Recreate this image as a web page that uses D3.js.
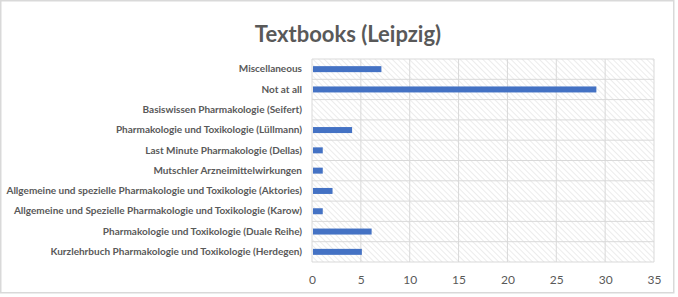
<!DOCTYPE html>
<html>
<head>
<meta charset="utf-8">
<script src="https://cdn.jsdelivr.net/npm/d3@7"></script>
<style>
  body { margin: 0; background: #fff; }
  svg text { font-family: Lato, "Noto Sans", sans-serif; }
</style>
</head>
<body>
<div id="chart"></div>
<script>
// data, top to bottom
var categories = [
    "Miscellaneous",
    "Not at all",
    "Basiswissen Pharmakologie (Seifert)",
    "Pharmakologie und Toxikologie (Lüllmann)",
    "Last Minute Pharmakologie (Dellas)",
    "Mutschler Arzneimittelwirkungen",
    "Allgemeine und spezielle Pharmakologie und Toxikologie (Aktories)",
    "Allgemeine und Spezielle Pharmakologie und Toxikologie (Karow)",
    "Pharmakologie und Toxikologie (Duale Reihe)",
    "Kurzlehrbuch Pharmakologie und Toxikologie (Herdegen)"
];
var counts = [7, 29, 0, 4, 1, 1, 2, 1, 6, 5];
var xTicks = [0, 5, 10, 15, 20, 25, 30, 35];
var title = "Textbooks (Leipzig)";

const W = 678, H = 297;
const margin = {top: 59, right: 24, bottom: 35, left: 312};
var width = W - margin.left - margin.right;
var height = H - margin.top - margin.bottom;

var svg = d3.select("#chart").append("svg")
    .attr("width", W)
    .attr("height", H);

// outer frame (chart area is a bit smaller than the window)
svg.append("rect")
    .attr("x", 0.75).attr("y", 0.75)
    .attr("width", 673).attr("height", 292)
    .attr("fill", "#fff")
    .attr("stroke", "#d9d9d9")
    .attr("stroke-width", 1.5);

// hatch pattern for the plot area
var pat = svg.append("defs").append("pattern")
    .attr("id", "hatch")
    .attr("patternUnits", "userSpaceOnUse")
    .attr("width", 4).attr("height", 4)
    .attr("patternTransform", "rotate(-45)");
pat.append("line")
    .attr("x1", 0).attr("y1", 0)
    .attr("x2", 0).attr("y2", 4)
    .attr("stroke", "#d9d9d9")
    .attr("stroke-width", 1);

svg.append("text")
    .attr("x", 348)
    .attr("y", 42)
    .attr("text-anchor", "middle")
    .style("font-weight", "bold")
    .style("font-size", "22px")
    .style("fill", "#595959")
    .text(title);

var g = svg.append("g")
    .attr("transform", "translate(" + margin.left + "," + margin.top + ")");

var xScale = d3.scaleLinear().domain([0, 35]).range([0, width]);
var yScale = d3.scaleBand().domain(categories).range([0, height]);

g.append("rect")
    .attr("width", width).attr("height", height)
    .attr("fill", "url(#hatch)");

// vertical gridlines
g.selectAll("line.vgrid")
    .data(xTicks)
    .enter().append("line")
    .attr("class", "vgrid")
    .attr("x1", d => xScale(d)).attr("x2", d => xScale(d))
    .attr("y1", 0).attr("y2", height)
    .attr("stroke", "#d9d9d9");

// horizontal gridlines between categories
var hLines = categories.map(c => yScale(c)).concat([height]);
g.selectAll("line.hgrid")
    .data(hLines)
    .enter().append("line")
    .attr("class", "hgrid")
    .attr("x1", 0).attr("x2", width)
    .attr("y1", d => d).attr("y2", d => d)
    .attr("stroke", "#d9d9d9");

// bars
g.selectAll("rect.bar")
    .data(categories)
    .enter().append("rect")
    .attr("class", "bar")
    .attr("x", xScale(0) + 1)
    .attr("y", d => yScale(d) + yScale.bandwidth() / 2 - 3)
    .attr("width", (d, i) => Math.max(0, xScale(counts[i]) - xScale(0)))
    .attr("height", 6)
    .attr("fill", "#4472c4");

// category labels
var yAxis = d3.axisLeft(yScale).tickSize(0).tickPadding(10);
g.append("g")
    .attr("class", "y-axis")
    .call(yAxis)
    .call(s => s.select(".domain").remove())
    .selectAll("text")
    .style("font-family", "Lato, sans-serif")
    .style("font-weight", "bold")
    .style("font-size", "10px")
    .style("fill", "#595959");

// x tick labels
var xAxis = d3.axisBottom(xScale).tickValues(xTicks).tickSize(0).tickPadding(13);
g.append("g")
    .attr("class", "x-axis")
    .attr("transform", "translate(0," + height + ")")
    .call(xAxis)
    .call(s => s.select(".domain").remove())
    .selectAll("text")
    .style("font-family", "Lato, sans-serif")
    .style("font-size", "12px")
    .style("fill", "#595959");
</script>
</body>
</html>
